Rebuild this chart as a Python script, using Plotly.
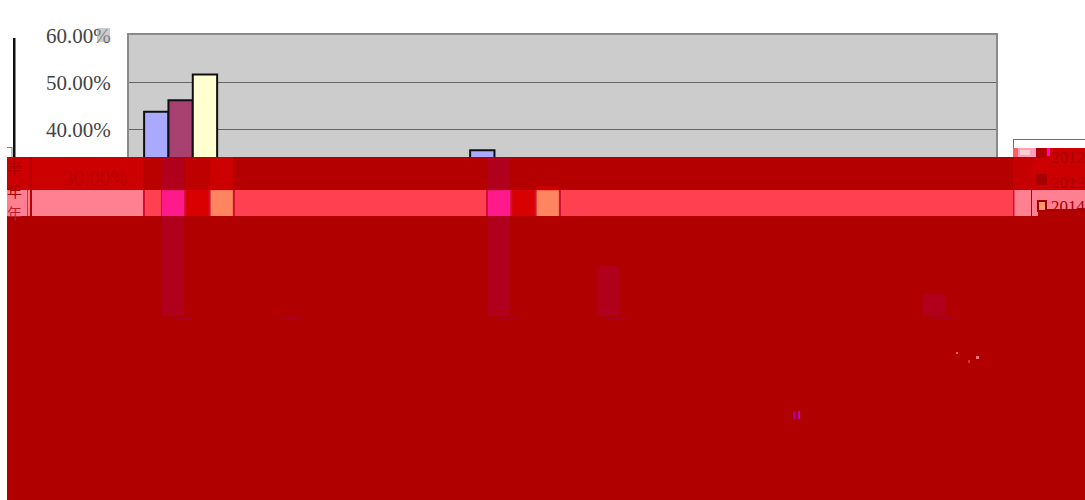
import plotly.graph_objects as go

categories = ["1", "2", "3", "4", "5", "6", "7", "8"]
series_names = ["2012", "2013", "2014"]
s2012 = [43.8, 0.0, 0.0, 35.6, 11.0, 0.0, 0.0, 5.0]
s2013 = [46.2, 0.0, 0.0, 27.1, 0.0, 0.0, 0.0, 0.0]
s2014 = [51.7, 0.0, 0.0, 28.0, 0.0, 0.0, 0.0, 0.0]
y_ticks = [0, 10, 20, 30, 40, 50, 60]
y_labels = ["", "", "", "", "40.00%", "50.00%", "60.00%"]
covered_label = "30.00%"

L, R, T, B = 129, 996, 35, 318
def X(p): return (p - L) / (R - L)
def Y(p): return 1 - (p - T) / (B - T)

fig = go.Figure()
for name, vals, col in zip(series_names, [s2012, s2013, s2014], ["#a9a9ff", "#a8416f", "#ffffd0"]):
    fig.add_bar(x=categories, y=vals, name=name, marker=dict(color=col, line=dict(color="#101010", width=2)))

shapes = []
def rect(x0, y0, x1, y1, c):
    shapes.append(dict(type="rect", xref="paper", yref="paper", x0=X(x0), x1=X(x1), y0=Y(y0), y1=Y(y1),
                       fillcolor=c, line=dict(width=0), layer="above"))
def drect(x0, x1, y0, y1, c):
    shapes.append(dict(type="rect", xref="x", yref="y", x0=x0, x1=x1, y0=y0, y1=y1,
                       fillcolor=c, line=dict(width=0), layer="above"))

# left axis rule, corner mark and gray smudge by the top tick label
rect(13, 38, 15.5, 157, "#111111")
rect(7, 147, 12, 148, "#808080")
rect(11.5, 147, 12.5, 157, "#808080")
rect(97, 28, 110, 42, "rgba(170,170,170,0.6)")

# red covering bands
rect(7, 216, 1085, 520, "#b00000")
rect(7, 157, 1013, 190, "#b40000")
rect(7, 190, 1013, 216, "#ff4050")
rect(7, 157, 143, 190, "#cc0000")
rect(143, 157, 162, 190, "#bb0000")
rect(185, 157, 210, 190, "#bd0000")
rect(210, 157, 233, 190, "#cc0000")
rect(7, 190, 143, 216, "#ff8090")
rect(143, 190, 145, 216, "#d01030")
rect(27, 190, 28, 216, "#cc3040")
rect(14, 157, 15, 175, "#aa0000")
rect(30, 157, 32, 216, "#b80000")
rect(161, 190, 235, 216, "#d01030")
rect(486, 190, 561, 216, "#d01030")
# legend zone
rect(1013, 139, 1085, 148, "#ffffff")
rect(1013, 148, 1085, 190, "#cc0000")
rect(1013, 148, 1040, 157, "#ff9fbf")
rect(1020, 150, 1030, 155, "#ffd0d0")
rect(1013, 148, 1018, 157, "#ff6060")
rect(1047, 148, 1050, 156, "#ff00e0")
rect(1043, 148, 1046, 155, "#ff1010")
rect(1013, 157, 1031, 190, "#c40000")
rect(1013, 190, 1085, 216, "#ff8090")
rect(1013, 190, 1014.5, 216, "#d01030")
rect(1031, 157, 1032, 216, "#b80000")
rect(1038, 209, 1085, 216, "#b00000")
# legend frame top / left
rect(1013, 139, 1085, 140, "#707070")
rect(1013, 139, 1014, 148, "#707070")
# legend swatches
rect(1036, 148, 1046, 158, "#b00000")
rect(1036, 174, 1047, 185, "#a80000")
rect(1037, 200, 1047, 212, "#a80000")
rect(1039, 202, 1045, 210, "#ff9a70")

# ghosted bars visible through the red, read through the data axes
BAND_LOW, BAND_HIGH, MASK_TOP = 21.6, 27.1, 34.1
step = 0.2238
for vals, k, col in [(s2012, 0, "#ff1a8c"), (s2013, 1, "#d80000"), (s2014, 2, "#ff8560")]:
    for i in [0, 3]:
        x0 = i - 0.172 + k * step
        drect(x0, x0 + 0.205, BAND_LOW, min(vals[i], BAND_HIGH), col)
# orange tip of the third ghost in group 4 rising into the upper band
x0 = 3 - 0.172 + 2 * step
drect(x0, x0 + 0.205, BAND_HIGH, s2014[3], "#cc0000")
for i in [0, 3, 4, 7]:
    x0 = i - 0.172
    top = min(s2012[i], MASK_TOP)
    if top > BAND_HIGH:
        drect(x0, x0 + 0.205, BAND_HIGH, top, "#b0001c")
    drect(x0, x0 + 0.205, 0.3, min(top, BAND_LOW), "#b0001c")
# thin ghost slivers along the baseline
for i in [0, 1, 3, 4, 7]:
    shapes.append(dict(type="rect", xref="x", yref="paper", x0=i - 0.088, x1=i + 0.11, y0=Y(320), y1=Y(317.5),
                       fillcolor="#a80020", line=dict(width=0), layer="above"))
# specks
rect(793, 411, 795, 419, "#a000b0")
rect(798, 411, 800, 419, "#c000c0")
rect(956, 352, 958, 354, "#ff5060")
rect(976, 356, 979, 359, "#ff7080")
rect(968, 360, 970, 363, "#d83040")

ann = []
def text(px, py, s, color, size, anchor="left", font="Liberation Serif"):
    ann.append(dict(xref="paper", yref="paper", x=X(px), y=Y(py), text=s, showarrow=False, xanchor=anchor,
                    yanchor="middle", font=dict(family=font, size=size, color=color)))
text(61, 178, covered_label, "#b80000", 21)
for name, py in zip(series_names, [157, 182, 206]):
    text(1049, py, name, "#a80000", 17)
for s, py, c in [("半", 167, "#a80000"), ("年", 190, "#a80000"), ("年", 212, "#c02030")]:
    text(14, py, s, c, 15, "center", "Noto Sans CJK SC")

fig.update_layout(
    width=1085, height=500, autosize=False, showlegend=False, barmode="group",
    bargap=0.328, bargroupgap=0,
    margin=dict(l=L, r=1085 - R, t=T, b=500 - B, pad=0),
    paper_bgcolor="#ffffff", plot_bgcolor="#cccccc", shapes=shapes, annotations=ann,
    xaxis=dict(showticklabels=False, ticks="", showline=True, linecolor="#8a8a8a", linewidth=2, mirror=True,
               showgrid=False, zeroline=False, range=[-0.475, 7.503]),
    yaxis=dict(range=[-0.106, 60.106], tickvals=y_ticks, ticktext=y_labels, showline=True, linecolor="#8a8a8a",
               linewidth=2, mirror=True, gridcolor="#666666", gridwidth=1, zeroline=False, ticks="",
               ticklabelstandoff=12, tickfont=dict(family="Liberation Serif", size=21, color="#444444")),
)
fig.write_html("out.html", default_width="1085px", default_height="500px",
               config=dict(displayModeBar=False),
               post_script="document.body.style.margin='0';")
